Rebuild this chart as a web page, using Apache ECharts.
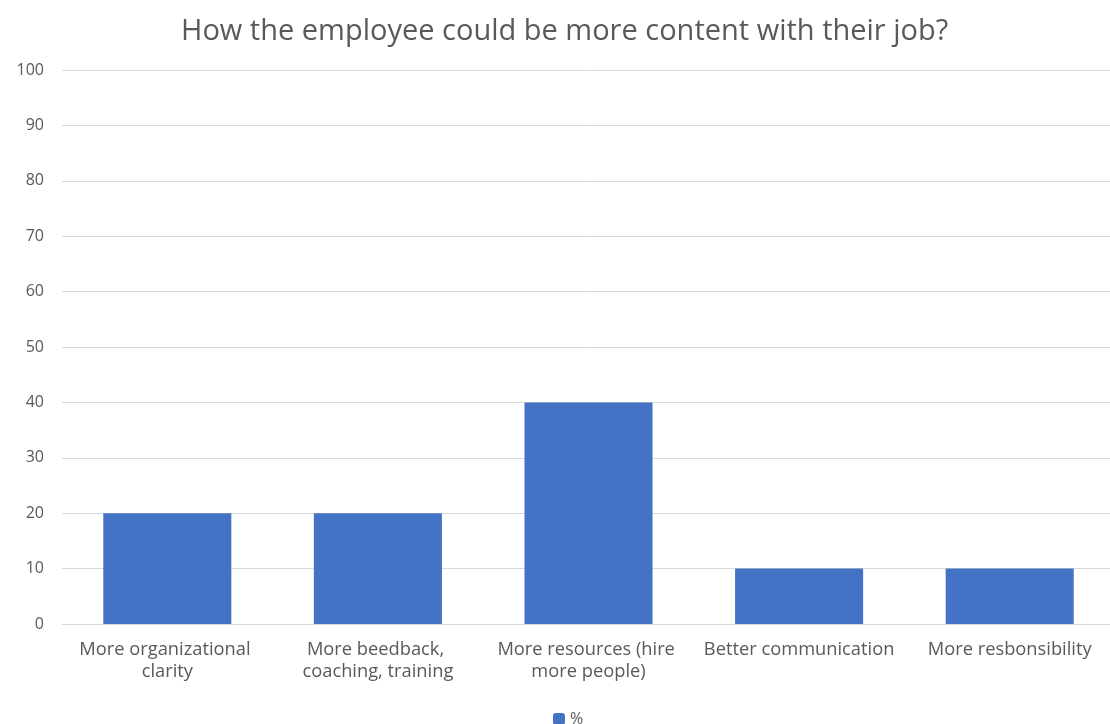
<!DOCTYPE html>
<html>
<head>
<meta charset="utf-8">
<script src="https://cdn.jsdelivr.net/npm/echarts@6/dist/echarts.min.js"></script>
<style>
  html, body { margin: 0; padding: 0; background: #fff; overflow: hidden; width: 1110px; height: 724px; }
  /* canvas is a little wider than the window so the plot area can run past the right edge */
  #chart { width: 1120px; height: 724px; }
</style>
</head>
<body>
<div id="chart"></div>
<script>
const titleText = 'How the employee could be more content with their job?';
const categories = [
  'More organizational clarity',
  'More beedback, coaching, training',
  'More resources (hire more people)',
  'Better communication',
  'More resbonsibility'
];
const seriesName = '%';
const values = [20, 20, 40, 10, 10];

const textColor = '#595959';
const fontFamily = '"Open Sans", sans-serif';

const chart = echarts.init(document.getElementById('chart'), null, { renderer: 'canvas' });
chart.setOption({
  animation: false,
  backgroundColor: '#ffffff',
  title: {
    text: titleText,
    left: 176,
    top: 12,
    textStyle: { color: textColor, fontSize: 29, fontWeight: 'normal', fontFamily: fontFamily }
  },
  legend: {
    bottom: -8,
    left: 548,
    itemWidth: 12,
    itemHeight: 12,
    itemGap: 6,
    data: [seriesName],
    textStyle: { color: textColor, fontSize: 16, fontFamily: fontFamily }
  },
  grid: { left: 62, width: 1053, top: 70, bottom: 100, containLabel: false },
  xAxis: {
    type: 'category',
    data: categories,
    axisLine: { lineStyle: { color: '#d9d9d9', width: 1 } },
    axisTick: { show: false },
    axisLabel: {
      color: textColor,
      fontSize: 18.3,
      fontFamily: fontFamily,
      width: 200,
      overflow: 'break',
      lineHeight: 22,
      margin: 15,
      interval: 0
    }
  },
  yAxis: {
    type: 'value',
    min: 0,
    max: 100,
    interval: 10,
    axisLine: { show: false },
    axisTick: { show: false },
    splitLine: { lineStyle: { color: '#d9d9d9', width: 1 } },
    axisLabel: { color: textColor, fontSize: 16, fontFamily: fontFamily, margin: 18 }
  },
  series: [{
    name: seriesName,
    type: 'bar',
    data: values,
    barWidth: '60.8%',
    itemStyle: { color: '#4472C4' }
  }]
});
</script>
</body>
</html>
